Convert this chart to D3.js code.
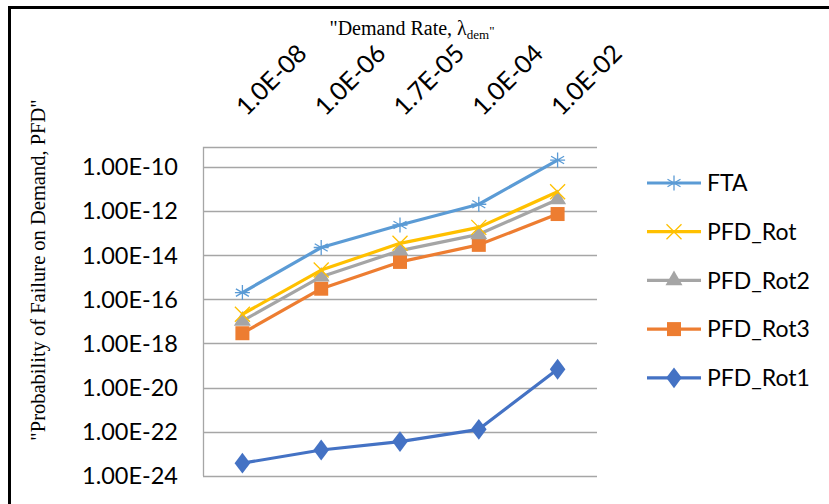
<!DOCTYPE html>
<html>
<head>
<meta charset="utf-8">
<script src="https://cdn.jsdelivr.net/npm/d3@7"></script>
<style>
  body { margin: 0; background: #fff; }
  svg { display: block; }
</style>
</head>
<body>
<div id="chart"></div>
<script>
// demand rates (x categories)
const categories = ["1.0E-08", "1.0E-06", "1.7E-05", "1.0E-04", "1.0E-02"];

// PFD values
const fta     = [2.0e-16, 2.2e-14, 2.3e-13, 2.0e-12, 2.0e-10];
const pfdRot  = [2.1e-17, 2.1e-15, 3.4e-14, 1.8e-13, 7.4e-12];
const pfdRot2 = [1.05e-17, 1.05e-15, 1.6e-14, 8.7e-14, 3.3e-12];
const pfdRot3 = [2.9e-18, 3.0e-16, 4.9e-15, 2.9e-14, 7.2e-13];
const pfdRot1 = [3.8e-24, 1.5e-23, 3.6e-23, 1.3e-22, 6.8e-20];

const yTicks = [1e-10, 1e-12, 1e-14, 1e-16, 1e-18, 1e-20, 1e-22, 1e-24];

const series = [
  {name: "FTA",      values: fta,     color: "#5B9BD5", marker: "star"},
  {name: "PFD_Rot",  values: pfdRot,  color: "#FFC000", marker: "cross"},
  {name: "PFD_Rot2", values: pfdRot2, color: "#A5A5A5", marker: "triangle"},
  {name: "PFD_Rot3", values: pfdRot3, color: "#ED7D31", marker: "square"},
  {name: "PFD_Rot1", values: pfdRot1, color: "#4472C4", marker: "diamond"}
];

const width = 829, height = 504;
const plot = {left: 203, right: 597, top: 147, bottom: 476};

const svg = d3.select("#chart").append("svg")
    .attr("width", width)
    .attr("height", height);

svg.append("rect").attr("width", width).attr("height", height).attr("fill", "#fff");

// outer frame (only top and left edges are visible)
svg.append("rect")
    .attr("x", 9.5).attr("y", 7.5)
    .attr("width", 840).attr("height", 520)
    .attr("fill", "none")
    .attr("stroke", "#000")
    .attr("stroke-width", 3);

const x = d3.scaleBand()
    .domain(categories)
    .range([plot.left, plot.right]);

const y = d3.scaleLog()
    .domain([1e-24, 1e-10])
    .range([plot.bottom, 166.7]);

function fmtExp(v) {
    const e = Math.round(Math.log10(v));
    const s = Math.abs(e) < 10 ? "0" + Math.abs(e) : "" + Math.abs(e);
    return "1.00E" + (e < 0 ? "-" : "+") + s;
}

// gridlines
svg.append("g")
    .selectAll("line")
    .data(yTicks)
    .join("line")
    .attr("x1", plot.left).attr("x2", plot.right)
    .attr("y1", d => Math.round(y(d)) + 0.5)
    .attr("y2", d => Math.round(y(d)) + 0.5)
    .attr("stroke", "#A6A6A6")
    .attr("stroke-width", 1.3);

// plot frame top + left
svg.append("path")
    .attr("d", `M${plot.right},${plot.top + 0.5}H${plot.left + 0.5}V${plot.bottom}`)
    .attr("fill", "none")
    .attr("stroke", "#A6A6A6")
    .attr("stroke-width", 1.3);

// y tick labels
svg.append("g")
    .selectAll("text")
    .data(yTicks)
    .join("text")
    .attr("x", 178)
    .attr("y", d => y(d))
    .attr("dy", "0.36em")
    .attr("text-anchor", "end")
    .attr("font-family", "Lato, 'Open Sans', sans-serif")
    .attr("font-size", 23.5)
    .attr("fill", "#000")
    .text(fmtExp);

// x tick labels, rotated
svg.append("g")
    .selectAll("text")
    .data(categories)
    .join("text")
    .attr("transform", d => `translate(${x(d) + x.bandwidth() / 2 + 4},117) rotate(-45)`)
    .attr("font-family", "Lato, 'Open Sans', sans-serif")
    .attr("font-size", 25)
    .attr("fill", "#000")
    .text(d => d);

// axis titles
const xTitle = svg.append("text")
    .attr("x", 412)
    .attr("y", 35)
    .attr("text-anchor", "middle")
    .attr("font-family", "'Liberation Serif', 'Times New Roman', serif")
    .attr("font-size", 20)
    .attr("fill", "#000");
xTitle.append("tspan").text("\"Demand Rate, \u03bb");
xTitle.append("tspan").attr("font-size", 13).attr("dy", 4).text("dem");
xTitle.append("tspan").attr("font-size", 13).attr("dy", -4).text("\"");

svg.append("text")
    .attr("transform", "translate(45,270) rotate(-90)")
    .attr("text-anchor", "middle")
    .attr("font-family", "'Liberation Serif', 'Times New Roman', serif")
    .attr("font-size", 20.5)
    .attr("fill", "#000")
    .text("\"Probability of Failure on Demand, PFD\"");

// markers
function drawMarker(g, type, color, cx, cy) {
    if (type === "star") {
        const r = 7.5;
        const d = [0, 60, 120].map(a => {
            const t = a * Math.PI / 180;
            return `M${cx - r * Math.sin(t)},${cy - r * Math.cos(t)}L${cx + r * Math.sin(t)},${cy + r * Math.cos(t)}`;
        }).join("") + `M${cx - r},${cy}L${cx + r},${cy}`;
        g.append("path").attr("d", d).attr("stroke", color).attr("stroke-width", 1.3).attr("fill", "none");
    } else if (type === "cross") {
        const r = 7.5;
        g.append("path")
            .attr("d", `M${cx - r},${cy - r}L${cx + r},${cy + r}M${cx - r},${cy + r}L${cx + r},${cy - r}`)
            .attr("stroke", color).attr("stroke-width", 1.3).attr("fill", "none");
    } else {
        const sym = {triangle: d3.symbolTriangle, square: d3.symbolSquare, diamond: d3.symbolDiamond}[type];
        const size = {triangle: 125, square: 196, diamond: 125}[type];
        g.append("path")
            .attr("d", d3.symbol().type(sym).size(size)())
            .attr("transform", `translate(${cx},${cy})` + (type === "diamond" ? " scale(1.3,1)" : ""))
            .attr("fill", color);
    }
}

const line = d3.line()
    .x((d, i) => x(categories[i]) + x.bandwidth() / 2)
    .y(d => y(d));

// draw from the bottom of the legend upward so FTA ends on top
series.slice().reverse().forEach(s => {
    const g = svg.append("g");
    g.append("path")
        .attr("d", line(s.values))
        .attr("fill", "none")
        .attr("stroke", s.color)
        .attr("stroke-width", 3.2)
        .attr("stroke-linejoin", "round");
    s.values.forEach((v, i) => {
        drawMarker(g, s.marker, s.color, x(categories[i]) + x.bandwidth() / 2, y(v));
    });
});

// legend
const legend = svg.append("g").attr("transform", "translate(647,183)");
series.forEach((s, i) => {
    const g = legend.append("g").attr("transform", `translate(0,${i * 48.7})`);
    g.append("line")
        .attr("x1", 0).attr("x2", 54)
        .attr("stroke", s.color)
        .attr("stroke-width", 3.2);
    drawMarker(g, s.marker, s.color, 27, 0);
    g.append("text")
        .attr("x", 60)
        .attr("dy", "0.36em")
        .attr("font-family", "Lato, 'Open Sans', sans-serif")
        .attr("font-size", 23)
        .attr("fill", "#000")
        .text(s.name);
});
</script>
</body>
</html>
